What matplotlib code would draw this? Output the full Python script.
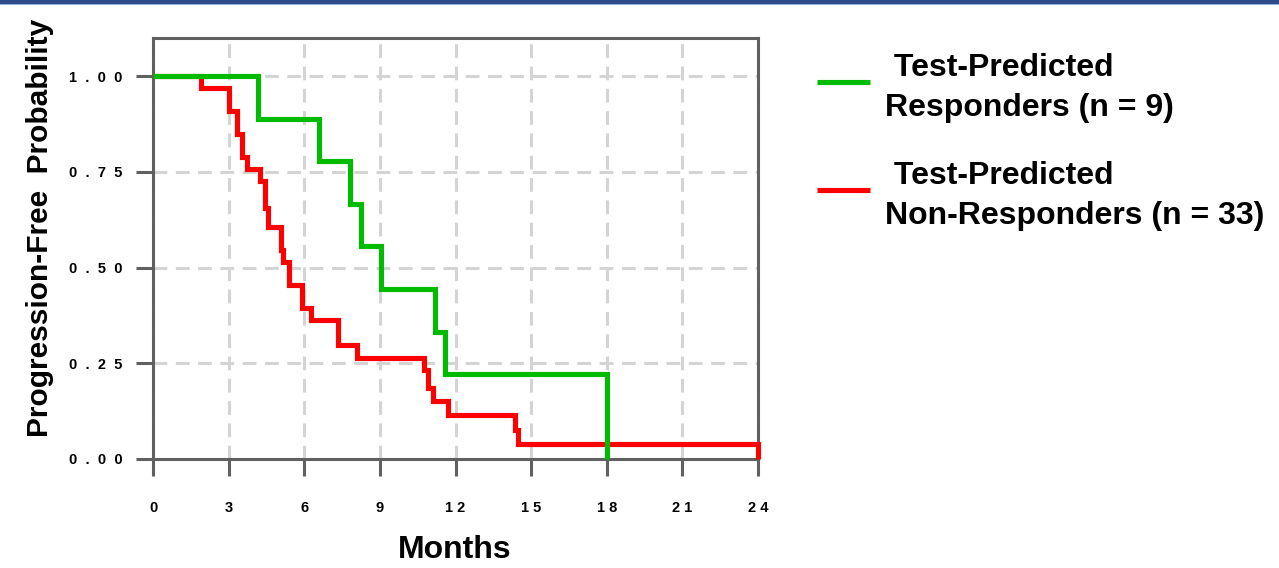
import matplotlib
matplotlib.use("Agg")
import matplotlib.pyplot as plt
from matplotlib.lines import Line2D
from matplotlib.patches import Rectangle

plt.rcParams['font.family'] = ['Liberation Sans', 'DejaVu Sans']

# Kaplan-Meier step data (months, progression-free probability)
responder_months = [0, 4.15, 6.6, 7.8, 8.25, 9.05, 11.18, 11.58, 18.0]
responder_prob = [1.0, 0.889, 0.778, 0.667, 0.556, 0.444, 0.333, 0.222, 0.0]

nonresponder_months = [0, 1.9, 3.0, 3.33, 3.52, 3.73, 4.25, 4.45, 4.58, 5.07,
                       5.17, 5.4, 5.92, 6.26, 7.35, 8.08, 10.77, 10.92, 11.12,
                       11.72, 14.38, 14.48, 24.0]
nonresponder_prob = [1.0, 0.970, 0.909, 0.848, 0.788, 0.758, 0.727, 0.655, 0.606,
                     0.545, 0.515, 0.455, 0.394, 0.364, 0.297, 0.265, 0.232, 0.185,
                     0.152, 0.114, 0.076, 0.038, 0.0]

series_names = [" Test-Predicted\nResponders (n = 9)",
                " Test-Predicted\nNon-Responders (n = 33)"]
series_colors = ["#00bb00", "#ff0000"]

x_ticks = [0, 3, 6, 9, 12, 15, 18, 21, 24]
x_tick_labels = ["0", "3", "6", "9", "1 2", "1 5", "1 8", "2 1", "2 4"]
y_ticks = [0.0, 0.25, 0.5, 0.75, 1.0]
y_tick_labels = ["0  .  0  0", "0  .  2  5", "0  .  5  0", "0  .  7  5", "1  .  0  0"]

W, H = 1279, 568
fig = plt.figure(figsize=(W / 100, H / 100), dpi=100)

# header band
fig.add_artist(Rectangle((0, 1 - 3.5 / H), 1, 3.5 / H, transform=fig.transFigure,
                         color="#2e4a8b", lw=0))
fig.add_artist(Rectangle((0, 1 - 5 / H), 1, 1.5 / H, transform=fig.transFigure,
                         color="#8fb0d8", lw=0))

left, right, top, bottom = 153, 758, 38, 459
ax = fig.add_axes([left / W, 1 - bottom / H, (right - left) / W, (bottom - top) / H])
ax.set_xlim(0, 24)
ax.set_ylim(0, 1.1)
ax.set_axisbelow(True)

spine_color = "#606060"
for s in ax.spines.values():
    s.set_color(spine_color)
    s.set_linewidth(2.2)

ax.grid(True, color="#d4d4d4", linewidth=2.2, linestyle=(0, (4.5, 2.8)))

ax.set_xticks(x_ticks, labels=x_tick_labels)
ax.set_yticks(y_ticks, labels=y_tick_labels)
ax.tick_params(axis="both", direction="out", length=12, width=2.2, color=spine_color,
               labelsize=10.5, labelcolor="black")
ax.tick_params(axis="x", pad=18)
ax.tick_params(axis="y", pad=10)
for lab in ax.get_xticklabels() + ax.get_yticklabels():
    lab.set_fontweight("bold")

line_kw = dict(where="post", linewidth=3.7, solid_joinstyle="miter",
               solid_capstyle="butt", clip_on=False)
ax.step(nonresponder_months, nonresponder_prob, color=series_colors[1], zorder=3, **line_kw)
ax.step(responder_months, responder_prob, color=series_colors[0], zorder=4, **line_kw)

fig.text(40 / W, 1 - 228 / H, "Progression-Free  Probability", rotation=90,
         ha="center", va="center", fontsize=21.5, fontweight="bold")
fig.text(455 / W, 1 - 550 / H, "Months", ha="center", va="center",
         fontsize=23, fontweight="bold")

# legend drawn beside the axes
legend_line_y = [82, 190]
legend_text_y = [88, 196]
for name, color, ly, ty in zip(series_names, series_colors, legend_line_y, legend_text_y):
    fig.add_artist(Line2D([817 / W, 870 / W], [1 - ly / H, 1 - ly / H],
                          transform=fig.transFigure, color=color, linewidth=3.7,
                          solid_capstyle="butt"))
    fig.text(885 / W, 1 - ty / H, name, ha="left", va="center", fontsize=23,
             fontweight="bold", linespacing=1.4)

fig.savefig("out.png", dpi=100)
